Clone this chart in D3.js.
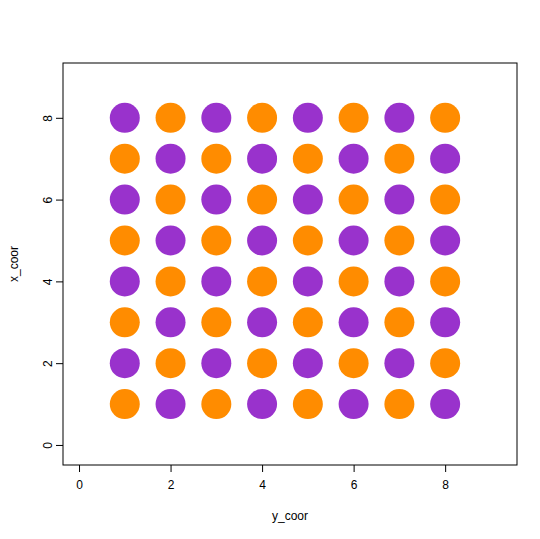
<!DOCTYPE html>
<html>
<head>
<meta charset="utf-8">
<script src="https://cdn.jsdelivr.net/npm/d3@7"></script>
<style>body{margin:0;background:#fff}</style>
</head>
<body>
<svg id="chart" width="540" height="539"></svg>
<script>
// grid positions and colour per cell, rows from y=8 down to y=1
const yCoor = [1, 2, 3, 4, 5, 6, 7, 8];
const xCoor = [8, 7, 6, 5, 4, 3, 2, 1];
const cellColors = [
  "POPOPOPO",
  "OPOPOPOP",
  "POPOPOPO",
  "OPOPOPOP",
  "POPOPOPO",
  "OPOPOPOP",
  "POPOPOPO",
  "OPOPOPOP"
];
const palette = {P: "#9932CC", O: "#FF8C00"};
const ticks = [0, 2, 4, 6, 8];

const svg = d3.select("#chart");
const font = "Liberation Sans, Arial, sans-serif";

const x = d3.scaleLinear().domain([-0.35, 9.57]).range([63, 517]);
const y = d3.scaleLinear().domain([-0.49, 9.34]).range([465, 63]);

const pts = [];
xCoor.forEach((xc, r) => yCoor.forEach((yc, c) => pts.push({yc, xc, col: palette[cellColors[r][c]]})));

svg.append("g").selectAll("circle").data(pts).join("circle")
  .attr("cx", d => x(d.yc)).attr("cy", d => y(d.xc)).attr("r", 15)
  .attr("fill", d => d.col);

svg.append("rect").attr("x", 63).attr("y", 63).attr("width", 454).attr("height", 402)
  .attr("fill", "none").attr("stroke", "#000");

const xa = svg.append("g").attr("transform", "translate(0,465)")
  .call(d3.axisBottom(x).tickValues(ticks).tickSize(7).tickPadding(8));
const ya = svg.append("g").attr("transform", "translate(63,0)")
  .call(d3.axisLeft(y).tickValues(ticks).tickSize(7).tickPadding(8));
[xa, ya].forEach(a => {
  a.select(".domain").remove();
  a.selectAll("text").attr("font-family", font).attr("font-size", 12).attr("fill", "#000");
});
ya.selectAll(".tick text").attr("text-anchor", "middle").attr("dy", 0)
  .attr("transform", `rotate(-90,-15,0)`).attr("x", -15).attr("y", 4);

svg.append("text").attr("x", 290).attr("y", 520).attr("text-anchor", "middle")
  .attr("font-family", font).attr("font-size", 12).text("y_coor");
svg.append("text").attr("transform", "translate(18,264) rotate(-90)").attr("text-anchor", "middle")
  .attr("font-family", font).attr("font-size", 12).text("x_coor");
</script>
</body>
</html>
